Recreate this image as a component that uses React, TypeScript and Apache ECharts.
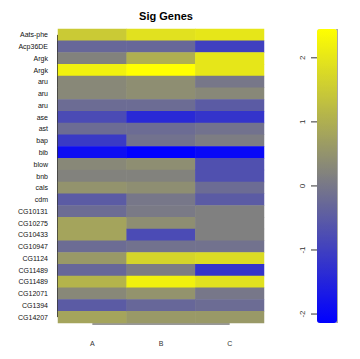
import React, { useEffect, useRef } from "react";
import * as echarts from "echarts";

const genes = [
  "Aats-phe", "Acp36DE", "Argk", "Argk", "aru", "aru", "aru", "ase", "ast", "bap",
  "bib", "blow", "bnb", "cals", "cdm", "CG10131", "CG10275", "CG10433", "CG10947",
  "CG1124", "CG11489", "CG11489", "CG12071", "CG1394", "CG14207",
];
const samples = ["A", "B", "C"];
const valuesA = [1.5, -0.3, 0.2, 2.2, 0.3, 0.3, -0.2, -0.8, -0.2, -1.1, -1.9, 0.3, 0.2, 0.5, -0.5, -0.2, 0.8, 0.8, -0.2, 0.6, -0.3, 1.1, 0.3, -0.5, 0.8];
const valuesB = [1.9, -0.3, 1.0, 2.45, 0.4, 0.4, -0.2, -1.4, -0.2, -0.1, -2.14, 0.4, 0.2, 0.4, 0.0, 0.05, 0.4, -0.8, -0.1, 1.7, 0.1, 2.2, 0.5, -0.3, 0.6];
const valuesC = [2.0, -1.0, 2.0, 2.0, 0.0, 0.3, -0.5, -1.2, -0.1, 0.1, -2.0, -0.7, -0.7, -0.2, -0.5, 0.15, 0.15, 0.15, -0.1, 1.8, -1.2, 1.9, 0.0, -0.2, 0.6];
const scaleTicks = [-2, -1, 0, 1, 2];
const scaleMin = -2.14;
const scaleMax = 2.45;

const FONT = "Liberation Sans, Arial, sans-serif";

export default function App() {
  const ref = useRef<HTMLDivElement>(null);
  useEffect(() => {
    if (!ref.current) return;
    const chart = echarts.init(ref.current, null, { renderer: "svg" });
    const cols = [valuesA, valuesB, valuesC];
    const data: number[][] = [];
    cols.forEach((col, xi) => col.forEach((v, yi) => data.push([xi, yi, v])));

    const gridLeft = 58, gridTop = 29, gridW = 206, gridH = 294;
    const vmLeft = 317, vmTop = 29, vmW = 20, vmH = 294;

    chart.setOption({
      animation: false,
      backgroundColor: "#ffffff",
      title: {
        text: "Sig Genes",
        left: gridLeft + gridW / 2,
        textAlign: "center",
        top: 5,
        padding: 5,
        textStyle: { fontFamily: FONT, fontSize: 11, fontWeight: "bold", color: "#000" },
      },
      grid: { left: gridLeft, top: gridTop, width: gridW, height: gridH },
      xAxis: {
        type: "category",
        data: samples,
        offset: 1,
        axisLine: { show: false },
        axisTick: { alignWithLabel: true, length: 4, lineStyle: { color: "#333" } },
        axisLabel: { margin: 16, fontSize: 7, fontFamily: FONT, color: "#333" },
        splitLine: { show: false },
      },
      yAxis: {
        type: "category",
        data: genes,
        inverse: true,
        axisLine: { show: false },
        axisTick: { alignWithLabel: true, length: 6, lineStyle: { color: "#333" } },
        axisLabel: { margin: 10, fontSize: 7, fontFamily: FONT, color: "#111" },
        splitLine: { show: false },
      },
      visualMap: {
        type: "continuous",
        min: scaleMin,
        max: scaleMax,
        calculable: false,
        orient: "vertical",
        left: vmLeft,
        top: vmTop,
        padding: 0,
        itemWidth: vmW,
        itemHeight: vmH,
        text: ["", ""],
        showLabel: false,
        inRange: { color: ["#0000ff", "#808080", "#ffff00"] },
      },
      series: [
        {
          type: "heatmap",
          data,
          itemStyle: { borderWidth: 0 },
          emphasis: { disabled: true },
        },
      ],
    });

    const first = chart.convertToPixel({ gridIndex: 0 }, [0, 0]) as number[];
    const last = chart.convertToPixel({ gridIndex: 0 }, [samples.length - 1, genes.length - 1]) as number[];
    const axisY = gridTop + gridH + 1;
    const axisX = gridLeft - 0.5;
    const toY = (v: number) => vmTop + ((scaleMax - v) / (scaleMax - scaleMin)) * vmH;
    const elements: any[] = [
      { type: "line", shape: { x1: first[0], y1: axisY, x2: last[0], y2: axisY }, style: { stroke: "#333", lineWidth: 1 } },
      { type: "line", shape: { x1: axisX, y1: first[1], x2: axisX, y2: last[1] }, style: { stroke: "#333", lineWidth: 1 } },
      { type: "line", shape: { x1: vmLeft + vmW, y1: vmTop, x2: vmLeft + vmW, y2: vmTop + vmH }, style: { stroke: "#555", lineWidth: 1 } },
    ];
    scaleTicks.forEach((t) => {
      const y = toY(t);
      elements.push({ type: "line", shape: { x1: vmLeft - 6, y1: y, x2: vmLeft, y2: y }, style: { stroke: "#333", lineWidth: 1 } });
      elements.push({
        type: "text",
        x: vmLeft - 15,
        y,
        rotation: Math.PI / 2,
        style: { text: String(t), fontSize: 8, fontFamily: FONT, fill: "#333", align: "center", verticalAlign: "middle" },
      });
    });
    chart.setOption({ graphic: { elements } });

    return () => chart.dispose();
  }, []);
  return <div ref={ref} style={{ position: "fixed", left: 0, top: 0, width: 360, height: 359 }} />;
}
